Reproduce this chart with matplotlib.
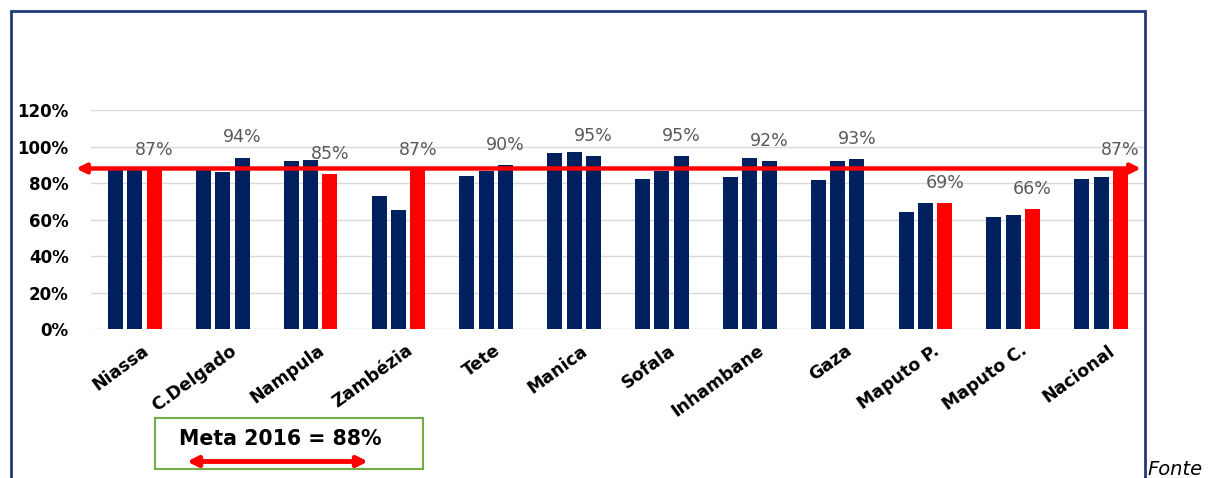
import matplotlib
matplotlib.use("Agg")
import matplotlib.pyplot as plt
import matplotlib.transforms as mtransforms
from matplotlib.patches import Rectangle, FancyArrowPatch
import numpy as np

# Provincial coverage, three consecutive years per province
provincias = ["Niassa", "C.Delgado", "Nampula", "Zambézia", "Tete", "Manica",
              "Sofala", "Inhambane", "Gaza", "Maputo P.", "Maputo C.", "Nacional"]
valores_a = [0.87, 0.89, 0.92, 0.73, 0.84, 0.966, 0.82, 0.836, 0.816, 0.64, 0.617, 0.825]
valores_b = [0.89, 0.86, 0.926, 0.655, 0.867, 0.972, 0.867, 0.94, 0.92, 0.69, 0.625, 0.831]
valores_2016 = [0.87, 0.94, 0.85, 0.87, 0.90, 0.95, 0.95, 0.92, 0.93, 0.69, 0.66, 0.87]
meta_2016 = 0.88
yticks = [0.0, 0.2, 0.4, 0.6, 0.8, 1.0, 1.2]

NAVY = "#002060"
RED = "#FF0000"
W, H = 1213, 478

fig = plt.figure(figsize=(W / 100, H / 100), dpi=100)
ax = fig.add_axes([91 / W, 1 - 329.3 / H, (1145 - 91) / W, (329.3 - 110) / H])

x = np.arange(len(provincias))
step = 0.22
width = 0.171
ax.bar(x - step, valores_a, width, color=NAVY, zorder=2)
ax.bar(x, valores_b, width, color=NAVY, zorder=2)
cores = [RED if v < meta_2016 else NAVY for v in valores_2016]
ax.bar(x + step, valores_2016, width, color=cores, zorder=2)

for xi, v in zip(x, valores_2016):
    ax.annotate(f"{v * 100:.0f}%", (xi + step, v), xytext=(0, 8),
                textcoords="offset points", ha="center", va="bottom",
                fontsize=12.5, color="#595959", family="DejaVu Sans", zorder=4)

ax.set_xlim(-0.5, len(provincias) - 0.5)
ax.set_ylim(0, 1.2)
ax.set_yticks(yticks)
ax.set_yticklabels([f"{t * 100:.0f}%" for t in yticks], fontsize=12,
                   fontweight="bold", family="DejaVu Sans")
ax.tick_params(axis="y", length=0, pad=16)
ax.tick_params(axis="x", length=0, pad=14)
ax.yaxis.grid(True, color="#D9D9D9", linewidth=1, zorder=0)
ax.set_axisbelow(True)
for s in ax.spines.values():
    s.set_visible(False)

ax.set_xticks(x)
ax.set_xticklabels(provincias, rotation=36, ha="right", va="center",
                   rotation_mode="anchor", fontsize=12.5, fontweight="bold",
                   family="DejaVu Sans")
shift = mtransforms.ScaledTranslation(12 / 100, 0, fig.dpi_scale_trans)
for lab in ax.get_xticklabels():
    lab.set_transform(lab.get_transform() + shift)

# Target line across the chart
ax.annotate("", xy=(1141 / W, meta_2016), xytext=(76 / W, meta_2016),
            xycoords=("figure fraction", "data"),
            textcoords=("figure fraction", "data"),
            arrowprops=dict(arrowstyle="<|-|>", color=RED, lw=3.2,
                            mutation_scale=14, shrinkA=0, shrinkB=0),
            annotation_clip=False, zorder=5)

# Outer frame
fig.patches.append(Rectangle((11 / W, -0.1), (1145 - 11) / W, 1.1 - 11 / H,
                             transform=fig.transFigure, fill=False,
                             edgecolor="#1F3A78", linewidth=2))

# Target box
fig.patches.append(Rectangle((155 / W, 1 - 469 / H), (423 - 155) / W, (469 - 418) / H,
                             transform=fig.transFigure, fill=False,
                             edgecolor="#70AD47", linewidth=1.5))
fig.text(280.5 / W, 1 - 439 / H, f"Meta 2016 = {meta_2016 * 100:.0f}%", ha="center",
         va="center", fontsize=14.8, fontweight="bold", family="DejaVu Sans")
fig.patches.append(FancyArrowPatch((187 / W, 1 - 461.5 / H), (368 / W, 1 - 461.5 / H),
                                   transform=fig.transFigure, arrowstyle="<|-|>",
                                   color=RED, lw=3.5, mutation_scale=15,
                                   shrinkA=0, shrinkB=0))

fig.text(1147 / W, 1 - 475 / H, "Fonte", ha="left", va="baseline", fontsize=14,
         style="italic", family="DejaVu Sans")

fig.savefig("out.png", dpi=100)
